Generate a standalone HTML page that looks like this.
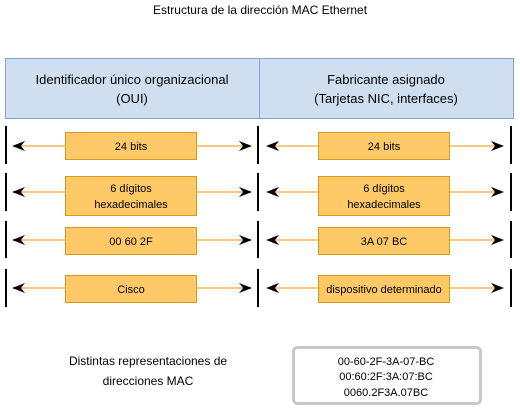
<!DOCTYPE html>
<html><head><style>body{margin:0;background:#fff}svg{display:block}text{font-family:"Liberation Sans",sans-serif;fill:#000}</style></head><body>
<svg width="520" height="416" viewBox="0 0 520 416">
<text x="260" y="14" font-size="12" text-anchor="middle">Estructura de la dirección MAC Ethernet</text>
<rect x="5.5" y="58.5" width="254" height="60" fill="#cfdff0" stroke="#7ea6d8"/>
<rect x="259.5" y="58.5" width="254" height="60" fill="#cfdff0" stroke="#7ea6d8"/>
<text x="132" y="84" font-size="13" text-anchor="middle">Identificador único organizacional</text>
<text x="132" y="103" font-size="13" text-anchor="middle">(OUI)</text>
<text x="386" y="84" font-size="13" text-anchor="middle">Fabricante asignado</text>
<text x="386" y="103" font-size="13" text-anchor="middle">(Tarjetas NIC, interfaces)</text>
<defs>
<g id="arrL"><path d="M0,0 L13,-5 L9,0 L13,5 Z" fill="#000"/></g>
<g id="arrR"><path d="M0,0 L-13,-5 L-9,0 L-13,5 Z" fill="#000"/></g>
</defs>
<g stroke="#000" stroke-width="2">
<line x1="6" y1="126" x2="6" y2="164"/><line x1="258" y1="126" x2="258" y2="164"/><line x1="511" y1="126" x2="511" y2="164"/>
<line x1="6" y1="173" x2="6" y2="211"/><line x1="258" y1="173" x2="258" y2="211"/><line x1="511" y1="173" x2="511" y2="211"/>
<line x1="6" y1="221" x2="6" y2="258"/><line x1="258" y1="221" x2="258" y2="258"/><line x1="511" y1="221" x2="511" y2="258"/>
<line x1="6" y1="269" x2="6" y2="307"/><line x1="258" y1="269" x2="258" y2="307"/><line x1="511" y1="269" x2="511" y2="307"/>
</g>
<g stroke="#fbc97d" stroke-width="2">
<line x1="20" y1="146" x2="244" y2="146"/><line x1="274" y1="146" x2="497" y2="146"/>
<line x1="20" y1="192" x2="244" y2="192"/><line x1="274" y1="192" x2="497" y2="192"/>
<line x1="20" y1="240" x2="244" y2="240"/><line x1="274" y1="240" x2="497" y2="240"/>
<line x1="20" y1="288" x2="244" y2="288"/><line x1="274" y1="288" x2="497" y2="288"/>
</g>
<use href="#arrL" x="12" y="146"/><use href="#arrR" x="252" y="146"/><use href="#arrL" x="266" y="146"/><use href="#arrR" x="504" y="146"/>
<use href="#arrL" x="12" y="192"/><use href="#arrR" x="252" y="192"/><use href="#arrL" x="266" y="192"/><use href="#arrR" x="504" y="192"/>
<use href="#arrL" x="12" y="240"/><use href="#arrR" x="252" y="240"/><use href="#arrL" x="266" y="240"/><use href="#arrR" x="504" y="240"/>
<use href="#arrL" x="12" y="288"/><use href="#arrR" x="252" y="288"/><use href="#arrL" x="266" y="288"/><use href="#arrR" x="504" y="288"/>
<g fill="#fdc966" stroke="#d79b1c">
<rect x="65.5" y="132.5" width="131" height="27"/><rect x="318.5" y="132.5" width="131" height="27"/>
<rect x="65.5" y="176.5" width="131" height="39"/><rect x="318.5" y="176.5" width="131" height="39"/>
<rect x="65.5" y="227.5" width="131" height="27"/><rect x="318.5" y="227.5" width="131" height="27"/>
<rect x="65.5" y="275.5" width="131" height="27"/><rect x="318.5" y="275.5" width="131" height="27"/>
</g>
<g font-size="11" text-anchor="middle">
<text x="131" y="150">24 bits</text><text x="384" y="150">24 bits</text>
<text x="131" y="192">6 dígitos</text><text x="131" y="208">hexadecimales</text>
<text x="384" y="192">6 dígitos</text><text x="384" y="208">hexadecimales</text>
<text x="131" y="245">00 60 2F</text><text x="384" y="245">3A 07 BC</text>
<text x="131" y="293">Cisco</text><text x="384" y="293">dispositivo determinado</text>
</g>
<text x="148" y="365" font-size="12" text-anchor="middle">Distintas representaciones de</text>
<text x="148" y="385" font-size="12" text-anchor="middle">direcciones MAC</text>
<rect x="293.5" y="347.5" width="187" height="56" rx="4" fill="#fff" stroke="#c8c8c8" stroke-width="3"/>
<g font-size="11" text-anchor="middle">
<text x="386" y="365">00-60-2F-3A-07-BC</text>
<text x="386" y="380">00:60:2F:3A:07:BC</text>
<text x="386" y="396">0060.2F3A.07BC</text>
</g>
</svg>
</body></html>
